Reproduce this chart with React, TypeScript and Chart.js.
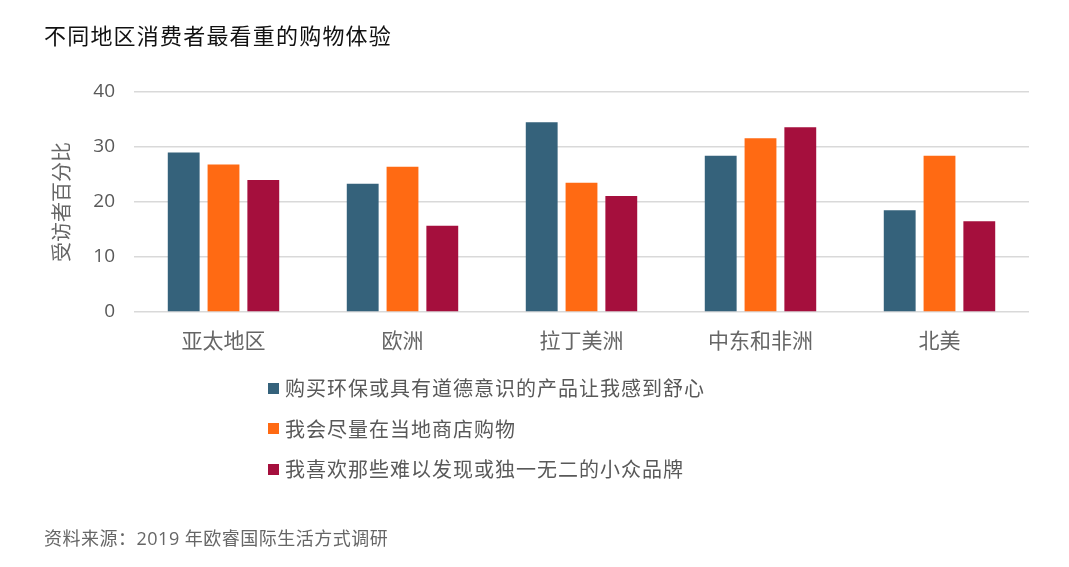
import React, { useEffect, useRef } from "react";
import { Chart, registerables } from "chart.js";

Chart.register(...registerables);

const TITLE = "不同地区消费者最看重的购物体验";
const SOURCE = "资料来源：2019 年欧睿国际生活方式调研";
const Y_TITLE = "受访者百分比";

const categories = ["亚太地区", "欧洲", "拉丁美洲", "中东和非洲", "北美"];
const seriesNames = [
  "购买环保或具有道德意识的产品让我感到舒心",
  "我会尽量在当地商店购物",
  "我喜欢那些难以发现或独一无二的小众品牌",
];
const ethicalValues = [29, 23.3, 34.5, 28.4, 18.5];
const localValues = [26.8, 26.4, 23.5, 31.6, 28.4];
const nicheValues = [24, 15.7, 21.1, 33.6, 16.5];
const seriesColors = ["#35627B", "#FF6A13", "#A50F3D"];
const yTicks = [0, 10, 20, 30, 40];

const FONT = '"Open Sans", "Noto Sans CJK SC", sans-serif';
const CJK = '"Noto Sans CJK SC", "Open Sans", sans-serif';

export default function App() {
  const ref = useRef<HTMLCanvasElement | null>(null);

  useEffect(() => {
    if (!ref.current) return;
    const values = [ethicalValues, localValues, nicheValues];
    const chart = new Chart(ref.current, {
      type: "bar",
      data: {
        labels: categories,
        datasets: seriesNames.map((name, i) => ({
          label: name,
          data: values[i],
          backgroundColor: seriesColors[i],
          borderWidth: 0,
          categoryPercentage: 0.667,
          barPercentage: 0.8,
        })),
      },
      options: {
        responsive: false,
        animation: false,
        layout: { padding: { top: 92, left: 0, right: 40, bottom: 215 } },
        plugins: {
          legend: { display: false },
          tooltip: { enabled: false },
          title: { display: false },
        },
        scales: {
          x: {
            grid: { display: false, drawTicks: false },
            border: { display: false },
            ticks: {
              color: "#666666",
              font: { family: CJK, size: 21 },
              padding: 15,
            },
            afterFit: (s: any) => {
              s.height = 40;
            },
          },
          y: {
            min: 0,
            max: 40,
            afterBuildTicks: (s: any) => {
              s.ticks = yTicks.map((v) => ({ value: v }));
            },
            grid: { color: "#d9d9d9", lineWidth: 1.5, drawTicks: false },
            border: { display: false },
            ticks: {
              color: "#595959",
              font: { family: FONT, size: 19 },
              padding: 19,
            },
            title: {
              display: true,
              text: Y_TITLE,
              color: "#666666",
              font: { family: CJK, size: 20 },
              padding: { top: 49, bottom: 0 },
            },
            afterFit: (s: any) => {
              s.width = 134;
            },
          },
        },
      },
    });
    return () => chart.destroy();
  }, []);

  return (
    <div
      style={{
        position: "absolute",
        left: 0,
        top: 0,
        width: 1069,
        height: 567,
        background: "#ffffff",
        overflow: "hidden",
      }}
    >
      <canvas
        ref={ref}
        width={1069}
        height={567}
        style={{ position: "absolute", left: 0, top: 0, width: 1069, height: 567 }}
      />
      <div
        style={{
          position: "absolute",
          left: 44,
          top: 33.5 - 16,
          lineHeight: "32px",
          fontFamily: CJK,
          fontSize: 22,
          letterSpacing: 1.2,
          color: "#111111",
          whiteSpace: "nowrap",
        }}
      >
        {TITLE}
      </div>
      {seriesNames.map((name, i) => (
        <div
          key={name}
          style={{
            position: "absolute",
            left: 268,
            top: 388 + i * 40.5 - 15,
            height: 30,
            display: "flex",
            alignItems: "center",
            whiteSpace: "nowrap",
          }}
        >
          <span
            style={{
              display: "inline-block",
              width: 11,
              height: 11,
              background: seriesColors[i],
              marginRight: 6,
            }}
          />
          <span
            style={{
              fontFamily: CJK,
              fontSize: 20,
              letterSpacing: 1,
              color: "#595959",
              lineHeight: "30px",
            }}
          >
            {name}
          </span>
        </div>
      ))}
      <div
        style={{
          position: "absolute",
          left: 44,
          top: 538 - 14,
          lineHeight: "28px",
          fontFamily: FONT,
          fontSize: 18,
          letterSpacing: 0.5,
          color: "#666666",
          whiteSpace: "nowrap",
        }}
      >
        {SOURCE}
      </div>
    </div>
  );
}
